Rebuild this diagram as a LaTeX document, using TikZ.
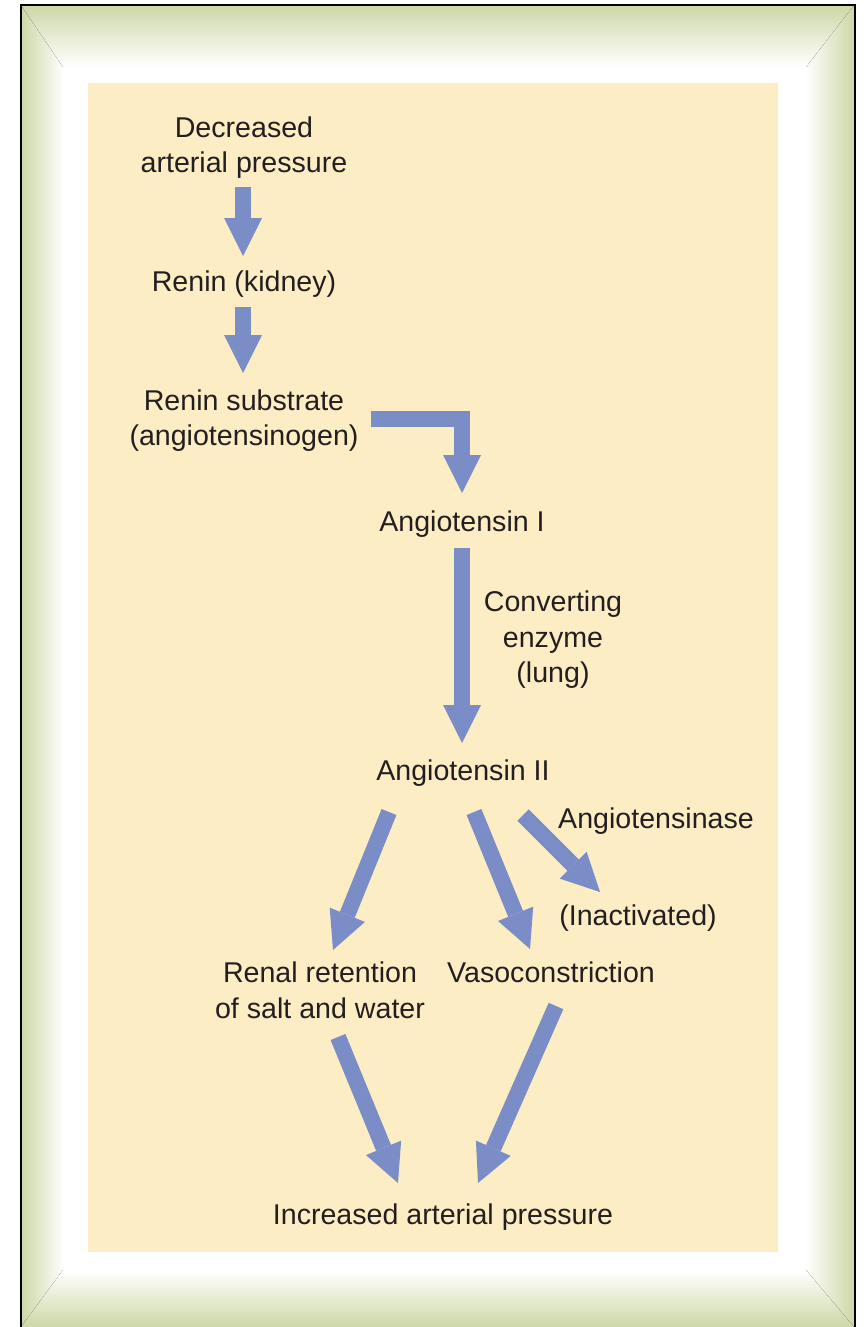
\documentclass[tikz,border=0pt]{standalone}
\usepackage{fontspec}
\setmainfont{Liberation Sans}
\usetikzlibrary{arrows.meta,calc}
\definecolor{framegreen}{RGB}{205,215,166}
\definecolor{cream}{RGB}{253,237,197}
\definecolor{arrowblue}{RGB}{123,141,199}
\definecolor{txt}{RGB}{35,31,32}
\tikzset{
  lbl/.style={inner sep=0pt, align=center, text=txt, font=\fontsize{28.6}{35.5}\selectfont},
  bigarrow/.style={draw=arrowblue, line width=16pt, line join=miter,
    -{Triangle[width=38pt,length=38pt,line width=0pt]}}
}
\begin{document}
\begin{tikzpicture}[x=1pt,y=-1pt]
\useasboundingbox (0,0) rectangle (866,1327);
% frame
\fill[white] (0,0) rectangle (866,1327);
\fill[left color=framegreen,right color=white] (21,5) rectangle (64,1327);
\fill[left color=white,right color=framegreen] (805,5) rectangle (854,1327);
\fill[top color=framegreen,bottom color=white] (21,5) -- (854,5) -- (806,67) -- (63,67) -- cycle;
\fill[top color=white,bottom color=framegreen] (21,1327) -- (63,1270) -- (806,1270) -- (854,1327) -- cycle;
\fill[white] (63,67) rectangle (806,1270);
\fill[cream] (88,83) rectangle (778,1252);
\draw[black,line width=2pt] (21,5) rectangle (855,1335);
% text nodes
\node[lbl] (dec) at (244,147.75) {Decreased\\arterial pressure};
\node[lbl] (renin) at (244,284.5) {Renin (kidney)};
\node[lbl] (sub) at (244,420.5) {Renin substrate\\(angiotensinogen)};
\node[lbl] (ang1) at (462,523.75) {Angiotensin I};
\node[lbl] (conv) at (553,640) {Converting\\enzyme\\(lung)};
\node[lbl] (ang2) at (463,772.75) {Angiotensin II};
\node[lbl] (angase) at (656,820.75) {Angiotensinase};
\node[lbl] (inact) at (638,917.75) {(Inactivated)};
\node[lbl] (renal) at (320,990.25) {Renal retention\\of salt and water};
\node[lbl] (vaso) at (551,972.75) {Vasoconstriction};
\node[lbl] (inc) at (443,1216.75) {Increased arterial pressure};
% arrows
\draw[bigarrow] ($(dec)+(-1,39.25)$) -- ($(renin)+(-1,-28.5)$);
\draw[bigarrow] ($(renin)+(-1,22.5)$) -- ($(sub)+(-1,-47.5)$);
\draw[bigarrow] ($(sub)+(127,-1.5)$) -| ($(ang1)+(0,-30.75)$);
\draw[bigarrow] ($(ang1)+(0,24.25)$) -- ($(ang2)+(-1,-29.75)$);
\draw[bigarrow] ($(ang2)+(-74,39.25)$) -- ($(renal)+(13,-40.25)$);
\draw[bigarrow] ($(ang2)+(11,39.25)$) -- ($(vaso)+(-21,-23.75)$);
\draw[bigarrow] ($(ang2)+(60,42.25)$) -- ($(inact)+(-38,-25.75)$);
\draw[bigarrow] ($(renal)+(18,46.75)$) -- ($(inc)+(-45,-33.75)$);
\draw[bigarrow] ($(vaso)+(5,33.25)$) -- ($(inc)+(35,-33.75)$);
\end{tikzpicture}
\end{document}
